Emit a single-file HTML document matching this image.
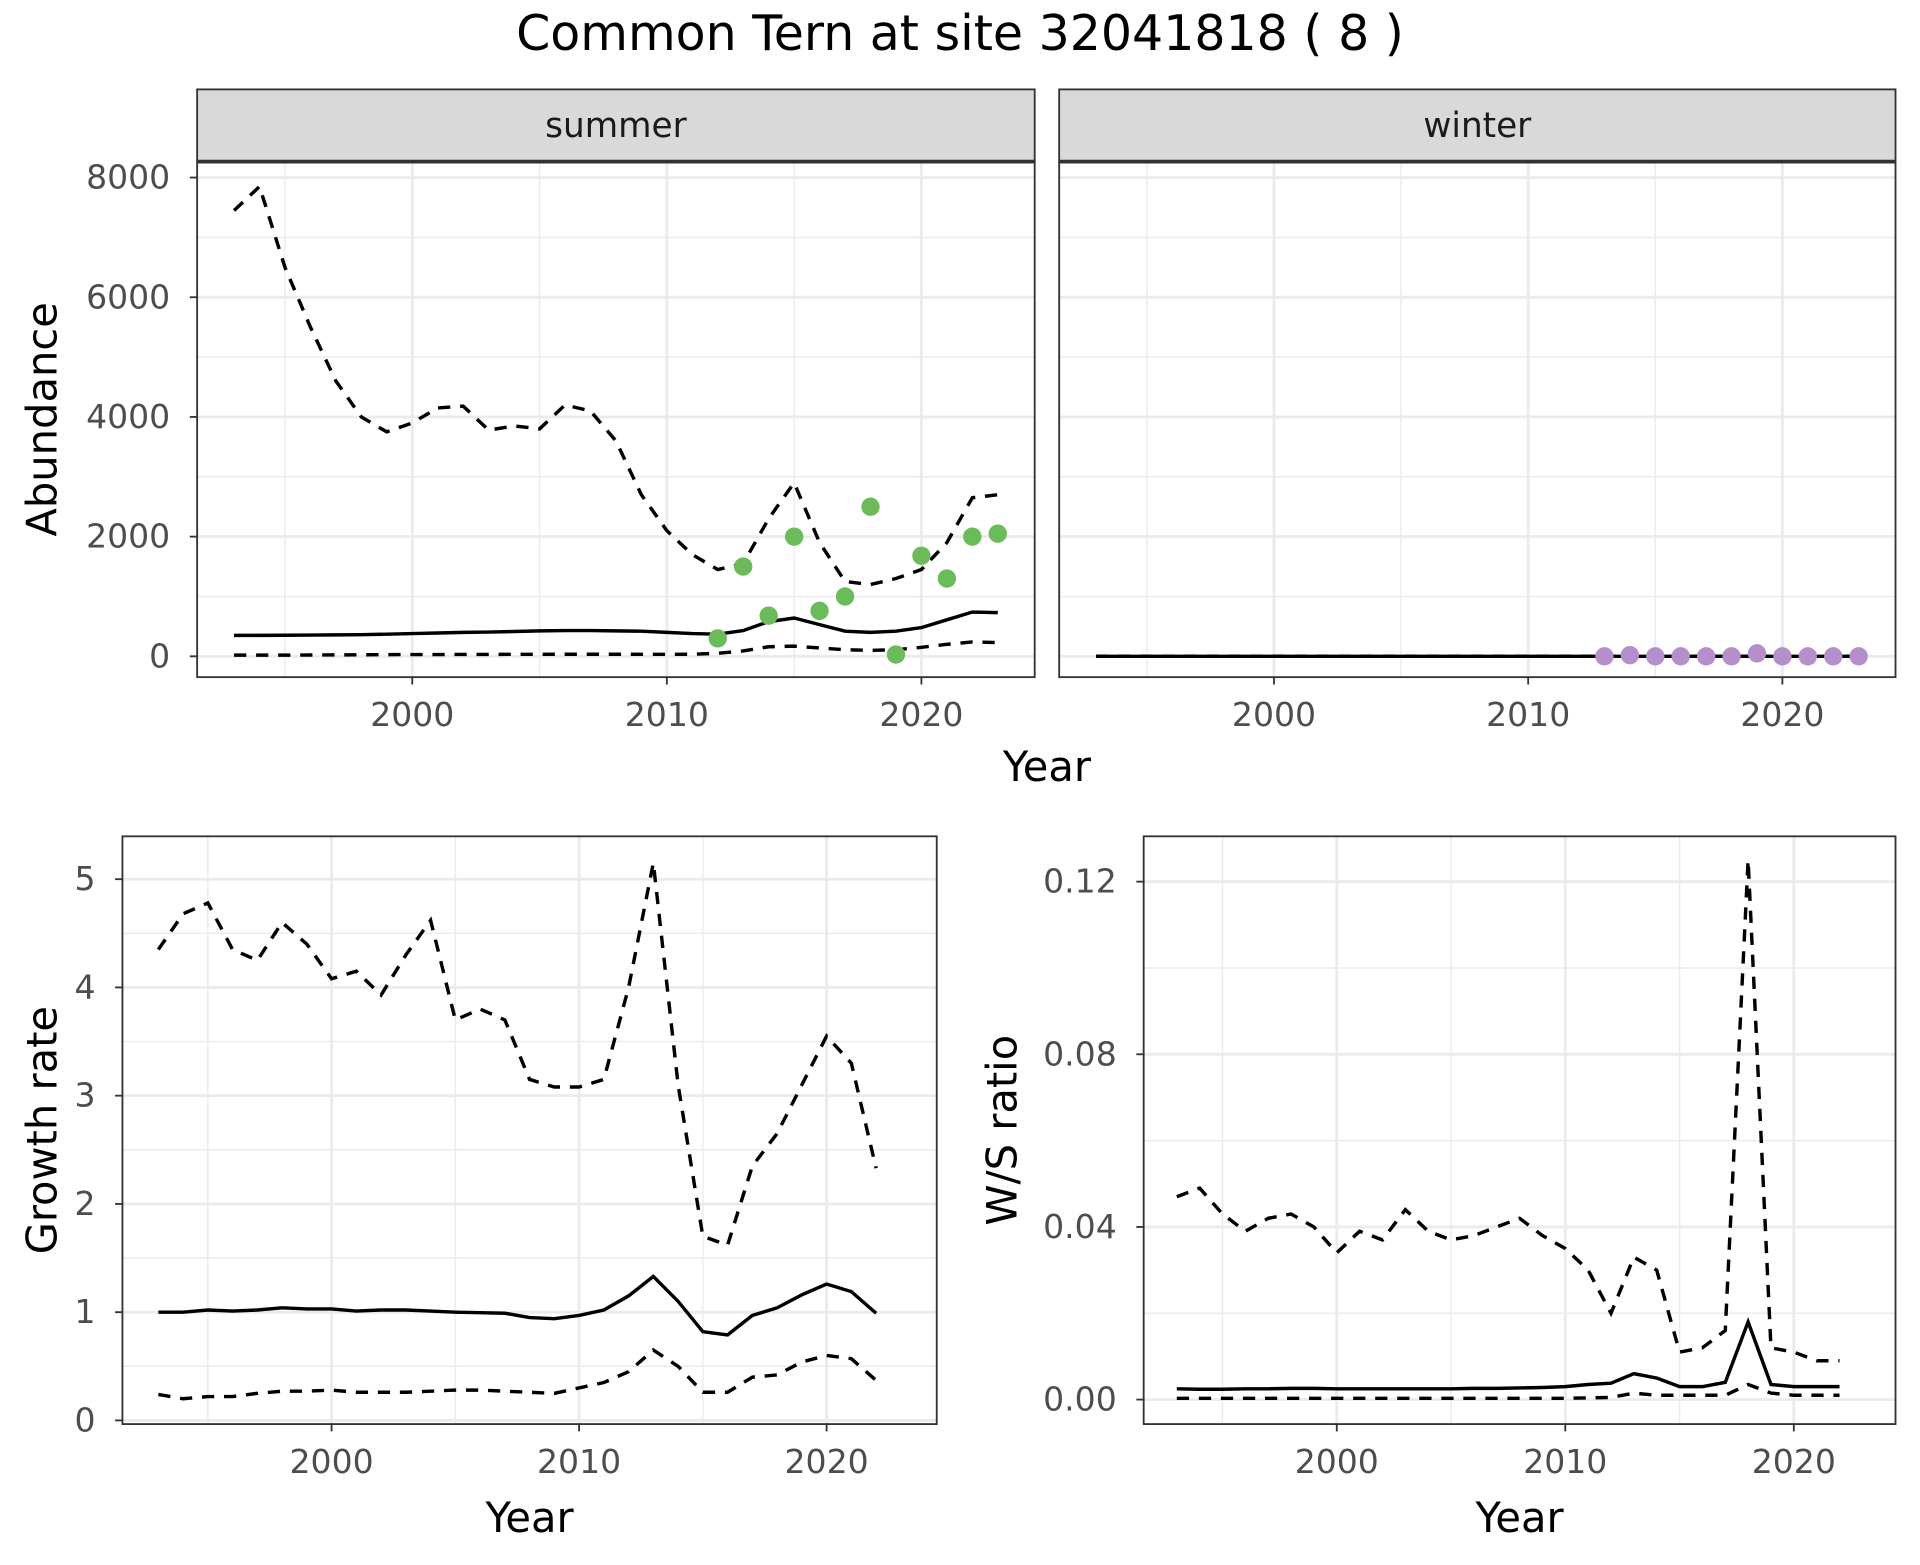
<!DOCTYPE html>
<html><head><meta charset="utf-8"><style>
html,body{margin:0;padding:0;background:#fff;}
svg text{font-family:"DejaVu Sans","Liberation Sans",sans-serif;}
</style></head><body>
<svg id="chart" width="1920" height="1560" viewBox="0 0 1568 1274" xmlns="http://www.w3.org/2000/svg">
<rect width="1568" height="1274" fill="#fff"/>
<text x="784" y="41" font-size="40" text-anchor="middle" fill="#000">Common Tern at site 32041818 ( 8 )</text>
<g id="g"></g>
</svg>
<script>
const yearsS = [1993,1994,1995,1996,1997,1998,1999,2000,2001,2002,2003,2004,2005,2006,2007,2008,2009,2010,2011,2012,2013,2014,2015,2016,2017,2018,2019,2020,2021,2022,2023];
const sumUpper = [7450,7850,6500,5500,4600,4000,3750,3900,4150,4180,3780,3850,3800,4200,4100,3600,2700,2100,1700,1450,1550,2300,2900,1900,1250,1200,1300,1450,1900,2650,2700];
const sumMid = [350,350,352,355,358,362,370,380,390,400,405,415,425,430,430,425,420,400,380,370,430,580,640,530,420,400,420,480,610,740,730];
const sumLower = [20,20,20,22,24,26,28,30,30,32,32,34,34,35,35,35,34,33,35,50,90,160,170,140,110,100,110,150,200,240,230];
const sumPtYears = [2012,2013,2014,2015,2016,2017,2018,2019,2020,2021,2022,2023];
const sumPts = [300,1500,680,2000,760,1000,2500,30,1680,1300,2000,2050];
const winUpper = yearsS.map(()=>0);
const winMid = yearsS.map(()=>0);
const winLower = yearsS.map(()=>0);
const winPtYears = [2013,2014,2015,2016,2017,2018,2019,2020,2021,2022,2023];
const winPts = [0,20,0,0,0,0,50,0,0,0,0];
const yearsG = [1993,1994,1995,1996,1997,1998,1999,2000,2001,2002,2003,2004,2005,2006,2007,2008,2009,2010,2011,2012,2013,2014,2015,2016,2017,2018,2019,2020,2021,2022];
const grUpper = [4.35,4.68,4.78,4.35,4.25,4.6,4.4,4.08,4.15,3.93,4.3,4.62,3.7,3.8,3.7,3.15,3.08,3.08,3.15,4.0,5.15,3.1,1.7,1.62,2.35,2.65,3.1,3.55,3.3,2.33];
const grMid = [1.0,1.0,1.02,1.01,1.02,1.04,1.03,1.03,1.01,1.02,1.02,1.01,1.0,0.995,0.99,0.95,0.94,0.97,1.02,1.15,1.33,1.1,0.82,0.79,0.97,1.04,1.16,1.26,1.19,0.99];
const grLower = [0.24,0.2,0.22,0.22,0.25,0.27,0.27,0.28,0.26,0.26,0.26,0.27,0.28,0.28,0.27,0.26,0.25,0.3,0.35,0.45,0.65,0.5,0.26,0.26,0.4,0.42,0.54,0.6,0.57,0.37];
const wsUpper = [0.047,0.049,0.043,0.039,0.042,0.043,0.04,0.034,0.039,0.037,0.044,0.039,0.037,0.038,0.04,0.042,0.038,0.035,0.03,0.02,0.033,0.03,0.011,0.012,0.016,0.125,0.012,0.011,0.009,0.009];
const wsMid = [0.0025,0.0024,0.0024,0.0025,0.0025,0.0026,0.0026,0.0025,0.0025,0.0025,0.0025,0.0025,0.0025,0.0026,0.0026,0.0027,0.0028,0.003,0.0035,0.0038,0.006,0.005,0.003,0.003,0.004,0.018,0.0035,0.003,0.003,0.003];
const wsLower = [0.0003,0.0003,0.0003,0.0003,0.0003,0.0003,0.0003,0.0003,0.0003,0.0003,0.0003,0.0003,0.0003,0.0003,0.0003,0.0003,0.0003,0.0003,0.0004,0.0005,0.0015,0.001,0.001,0.001,0.001,0.0035,0.0015,0.001,0.001,0.001];

const NS='http://www.w3.org/2000/svg';
const G=document.getElementById('g');
function el(tag,attrs,parent){const e=document.createElementNS(NS,tag);for(const k in attrs)e.setAttribute(k,attrs[k]);(parent||G).appendChild(e);return e;}
const XMIN=1991.55,XMAX=2024.45;

function panel(o){
  const sx=v=>o.x0+(v-XMIN)/(XMAX-XMIN)*(o.x1-o.x0);
  const sy=v=>o.yv0+(v-o.v0)/(o.v1-o.v0)*(o.yv1-o.yv0);
  const g=el('g',{});
  
  
  for(const t of o.yMinor){el('line',{x1:o.x0,x2:o.x1,y1:sy(t),y2:sy(t),stroke:'#ebebeb','stroke-width':1.2},g);}
  for(const t of [1995,2005,2015]){el('line',{x1:sx(t),x2:sx(t),y1:o.y0,y2:o.y1,stroke:'#ebebeb','stroke-width':1.2},g);}
  for(const t of o.yTicks){el('line',{x1:o.x0,x2:o.x1,y1:sy(t),y2:sy(t),stroke:'#ebebeb','stroke-width':2.4},g);}
  for(const t of [2000,2010,2020]){el('line',{x1:sx(t),x2:sx(t),y1:o.y0,y2:o.y1,stroke:'#ebebeb','stroke-width':2.4},g);}
  const line=(ys,vals,dash,nm)=>{
    const p=el('polyline',{points:ys.map((y,i)=>sx(y)+','+sy(vals[i])).join(' '),fill:'none',stroke:'#000','stroke-width':2.8,'stroke-dasharray':dash?'10,8':'none'},g);
    
    
  };
  line(o.years,o.upper,true,'upper-bound-line');
  line(o.years,o.lower,true,'lower-bound-line');
  line(o.years,o.mid,false,'estimate-line');
  if(o.pts){o.ptYears.forEach((y,i)=>{const c=el('circle',{cx:sx(y),cy:sy(o.pts[i]),r:7.5,fill:o.ptColor},g);
    
    });}
  el('rect',{x:o.x0,y:o.y0,width:o.x1-o.x0,height:o.y1-o.y0,fill:'none',stroke:'#333','stroke-width':1.5},g);
  if(o.strip){const s=el('rect',{x:o.x0,y:o.y0-59,width:o.x1-o.x0,height:59,fill:'#d9d9d9',stroke:'#333','stroke-width':1.5},g);
    
    
    el('line',{x1:o.x0,x2:o.x1,y1:o.y0,y2:o.y0,stroke:'#333','stroke-width':3},g);
    const t=el('text',{x:(o.x0+o.x1)/2,y:o.y0-20,'font-size':28,'text-anchor':'middle',fill:'#1a1a1a'},g);t.textContent=o.strip;
    
    }
  if(o.yLabels){o.yTicks.forEach((t,i)=>{el('line',{x1:o.x0-6,x2:o.x0,y1:sy(t),y2:sy(t),stroke:'#333','stroke-width':1.5},g);
    const tx=el('text',{x:o.x0-22,y:sy(t)+9,'font-size':27,'text-anchor':'end',fill:'#4d4d4d'},g);tx.textContent=o.yLabels[i];
    
    });}
  for(const t of [2000,2010,2020]){el('line',{x1:sx(t),x2:sx(t),y1:o.y1,y2:o.y1+6,stroke:'#333','stroke-width':1.5},g);
    const tx=el('text',{x:sx(t),y:o.y1+40,'font-size':27,'text-anchor':'middle',fill:'#4d4d4d'},g);tx.textContent=String(t);
    
    }
  if(o.ytitle){const tx=el('text',{x:0,y:0,'font-size':34,'text-anchor':'middle',fill:'#000',transform:`translate(${o.ytx},${(o.y0+o.y1)/2}) rotate(-90)`},g);tx.textContent=o.ytitle;
    
    }
  if(o.xtitle){const tx=el('text',{x:(o.x0+o.x1)/2,y:o.y1+88,'font-size':34,'text-anchor':'middle',fill:'#000'},g);tx.textContent='Year';
    
    }
}
const absT=[0,2000,4000,6000,8000], absM=[1000,3000,5000,7000];
panel({name:'summer-panel',x0:161,x1:845,y0:132,y1:553,v0:0,v1:8000,yv0:536,yv1:145,yTicks:absT,yMinor:absM,yLabels:['0','2000','4000','6000','8000'],strip:'summer',years:yearsS,upper:sumUpper,mid:sumMid,lower:sumLower,ptYears:sumPtYears,pts:sumPts,ptColor:'#6cbb5a',ytitle:'Abundance',ytx:46});
panel({name:'winter-panel',x0:865,x1:1548,y0:132,y1:553,v0:0,v1:8000,yv0:536,yv1:145,yTicks:absT,yMinor:absM,strip:'winter',years:yearsS,upper:winUpper,mid:winMid,lower:winLower,ptYears:winPtYears,pts:winPts,ptColor:'#b48fcb'});
{const tx=el('text',{x:855,y:638,'font-size':34,'text-anchor':'middle',fill:'#000'});tx.textContent='Year';

}
panel({name:'growth-rate-panel',x0:100,x1:765,y0:683,y1:1163,v0:0,v1:5,yv0:1160,yv1:718,yTicks:[0,1,2,3,4,5],yMinor:[0.5,1.5,2.5,3.5,4.5],yLabels:['0','1','2','3','4','5'],years:yearsG,upper:grUpper,mid:grMid,lower:grLower,ytitle:'Growth rate',ytx:46,xtitle:true});
panel({name:'ws-ratio-panel',x0:934,x1:1548,y0:683,y1:1163,v0:0,v1:0.12,yv0:1143,yv1:720,yTicks:[0,0.04,0.08,0.12],yMinor:[0.02,0.06,0.1],yLabels:['0.00','0.04','0.08','0.12'],years:yearsG,upper:wsUpper,mid:wsMid,lower:wsLower,ytitle:'W/S ratio',ytx:830,xtitle:true});
</script>
</body></html>
